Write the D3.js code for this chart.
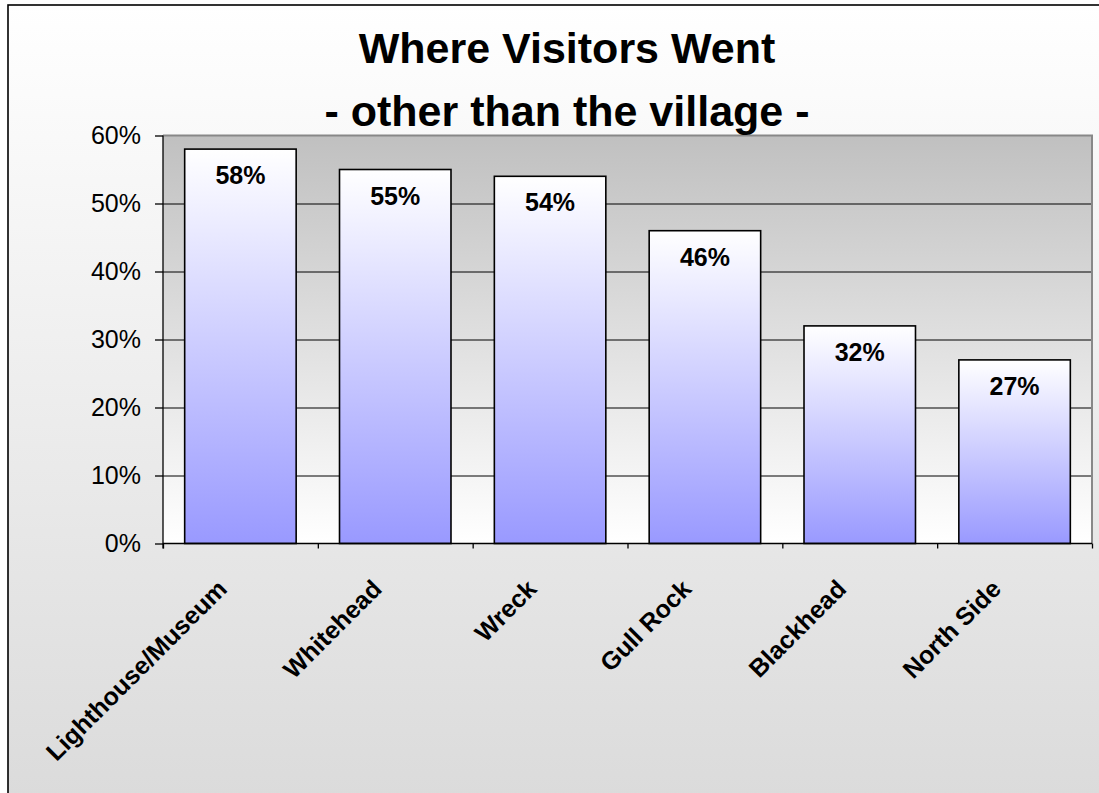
<!DOCTYPE html>
<html>
<head>
<meta charset="utf-8">
<script src="https://cdn.jsdelivr.net/npm/d3@7"></script>
<style>
  html, body { margin: 0; padding: 0; background: #ffffff; }
  svg { display: block; font-family: Arial, "Liberation Sans", sans-serif; }
</style>
</head>
<body>
<svg id="chart" width="1099" height="793"></svg>
<script>
// Share of visitors going to each place (besides the village)
const categories = ["Lighthouse/Museum", "Whitehead", "Wreck", "Gull Rock", "Blackhead", "North Side"];
const visitShare = [0.58, 0.55, 0.54, 0.46, 0.32, 0.27];
const yTicks = [0, 0.1, 0.2, 0.3, 0.4, 0.5, 0.6];
const titleLines = ["Where Visitors Went", "- other than the village -"];

const W = 1099, H = 793;
const plot = { left: 163, right: 1092, top: 135.5, bottom: 543.5 };

const svg = d3.select("#chart");
const defs = svg.append("defs");

// chart area: white fading to light grey
const gChart = defs.append("linearGradient").attr("id", "chartBg")
  .attr("x1", 0).attr("y1", 0).attr("x2", 0).attr("y2", 1);
gChart.append("stop").attr("offset", 0).attr("stop-color", "#ffffff");
gChart.append("stop").attr("offset", 1).attr("stop-color", "#dadada");

// plot area: grey on top fading to white
const gPlot = defs.append("linearGradient").attr("id", "plotBg")
  .attr("x1", 0).attr("y1", 0).attr("x2", 0).attr("y2", 1);
gPlot.append("stop").attr("offset", 0).attr("stop-color", "#c0c0c0");
gPlot.append("stop").attr("offset", 1).attr("stop-color", "#ffffff");

// bars: white at top to periwinkle at the base
const gBar = defs.append("linearGradient").attr("id", "barFill")
  .attr("x1", 0).attr("y1", 0).attr("x2", 0).attr("y2", 1);
gBar.append("stop").attr("offset", 0).attr("stop-color", "#ffffff");
gBar.append("stop").attr("offset", 1).attr("stop-color", "#9999ff");

svg.append("rect")
  .attr("x", 8).attr("y", 5).attr("width", W + 20).attr("height", H + 20)
  .attr("fill", "url(#chartBg)")
  .attr("stroke", "#000").attr("stroke-width", 1.6);

const x = d3.scaleBand()
  .domain(categories)
  .range([plot.left, plot.right])
  .paddingInner(0.28)
  .paddingOuter(0.14);

const y = d3.scaleLinear()
  .domain([0, 0.6])
  .range([plot.bottom, plot.top]);

// plot background
svg.append("rect")
  .attr("x", plot.left).attr("y", plot.top)
  .attr("width", plot.right - plot.left).attr("height", plot.bottom - plot.top)
  .attr("fill", "url(#plotBg)");

// horizontal gridlines
svg.append("g")
  .attr("transform", `translate(${plot.left},0)`)
  .call(d3.axisLeft(y).tickValues(yTicks.filter(t => t > 0 && t < 0.6))
    .tickSize(-(plot.right - plot.left)).tickFormat(""))
  .call(g => g.select(".domain").remove())
  .call(g => g.selectAll("line").attr("stroke", "#000").attr("stroke-width", 1));

// plot border (top and right)
svg.append("path")
  .attr("d", `M${plot.left},${plot.top}H${plot.right}V${plot.bottom}`)
  .attr("fill", "none").attr("stroke", "#888888").attr("stroke-width", 2);

// bars
svg.append("g").selectAll("rect")
  .data(categories)
  .join("rect")
  .attr("x", (d) => x(d))
  .attr("y", (d, i) => y(visitShare[i]))
  .attr("width", x.bandwidth())
  .attr("height", (d, i) => y(0) - y(visitShare[i]))
  .attr("fill", "url(#barFill)")
  .attr("stroke", "#000").attr("stroke-width", 1.6);

// value labels
svg.append("g").selectAll("text")
  .data(categories)
  .join("text")
  .attr("x", (d) => x(d) + x.bandwidth() / 2)
  .attr("y", (d, i) => y(visitShare[i]) + 35)
  .attr("text-anchor", "middle")
  .attr("font-size", 25).attr("font-weight", "bold").attr("fill", "#000")
  .text((d, i) => d3.format(".0%")(visitShare[i]));

// y axis
svg.append("g")
  .attr("transform", `translate(${plot.left},0)`)
  .call(d3.axisLeft(y).tickValues(yTicks).tickSize(8).tickPadding(14)
    .tickFormat(d3.format(".0%")))
  .call(g => g.select(".domain").attr("d", `M0,${plot.top}V${plot.bottom + 5}`)
    .attr("stroke", "#000").attr("stroke-width", 1.3))
  .call(g => g.selectAll(".tick line").attr("stroke", "#000").attr("stroke-width", 1.3))
  .call(g => g.selectAll(".tick text").attr("font-size", 25).attr("fill", "#000")
    .attr("font-family", "Arial, 'Liberation Sans', sans-serif"));

// x axis: tick marks between categories
const xEdges = d3.scaleLinear().domain([0, categories.length]).range([plot.left, plot.right]);
svg.append("g")
  .attr("transform", `translate(0,${plot.bottom})`)
  .call(d3.axisBottom(xEdges).tickValues(d3.range(categories.length + 1)).tickSize(5).tickFormat(""))
  .call(g => g.select(".domain").attr("d", `M${plot.left},0H${plot.right}`)
    .attr("stroke", "#000").attr("stroke-width", 1.6))
  .call(g => g.selectAll(".tick line").attr("stroke", "#000").attr("stroke-width", 1.3));

// x axis: rotated category labels
svg.append("g")
  .attr("transform", `translate(0,${plot.bottom})`)
  .call(d3.axisBottom(x).tickSize(0).tickPadding(0))
  .call(g => g.select(".domain").remove())
  .call(g => g.selectAll(".tick text")
    .attr("font-size", 25).attr("font-weight", "bold").attr("fill", "#000")
    .attr("font-family", "Arial, 'Liberation Sans', sans-serif")
    .attr("text-anchor", "end")
    .attr("dy", null).attr("y", 0)
    .attr("transform", "translate(-12,47) rotate(-45)"));

// title
const title = svg.append("text")
  .attr("x", 567).attr("text-anchor", "middle")
  .attr("font-size", 43).attr("font-weight", "bold").attr("fill", "#000");
title.selectAll("tspan").data(titleLines).join("tspan")
  .attr("x", 567)
  .attr("y", (d, i) => 63 + i * 63)
  .text(d => d);
</script>
</body>
</html>
